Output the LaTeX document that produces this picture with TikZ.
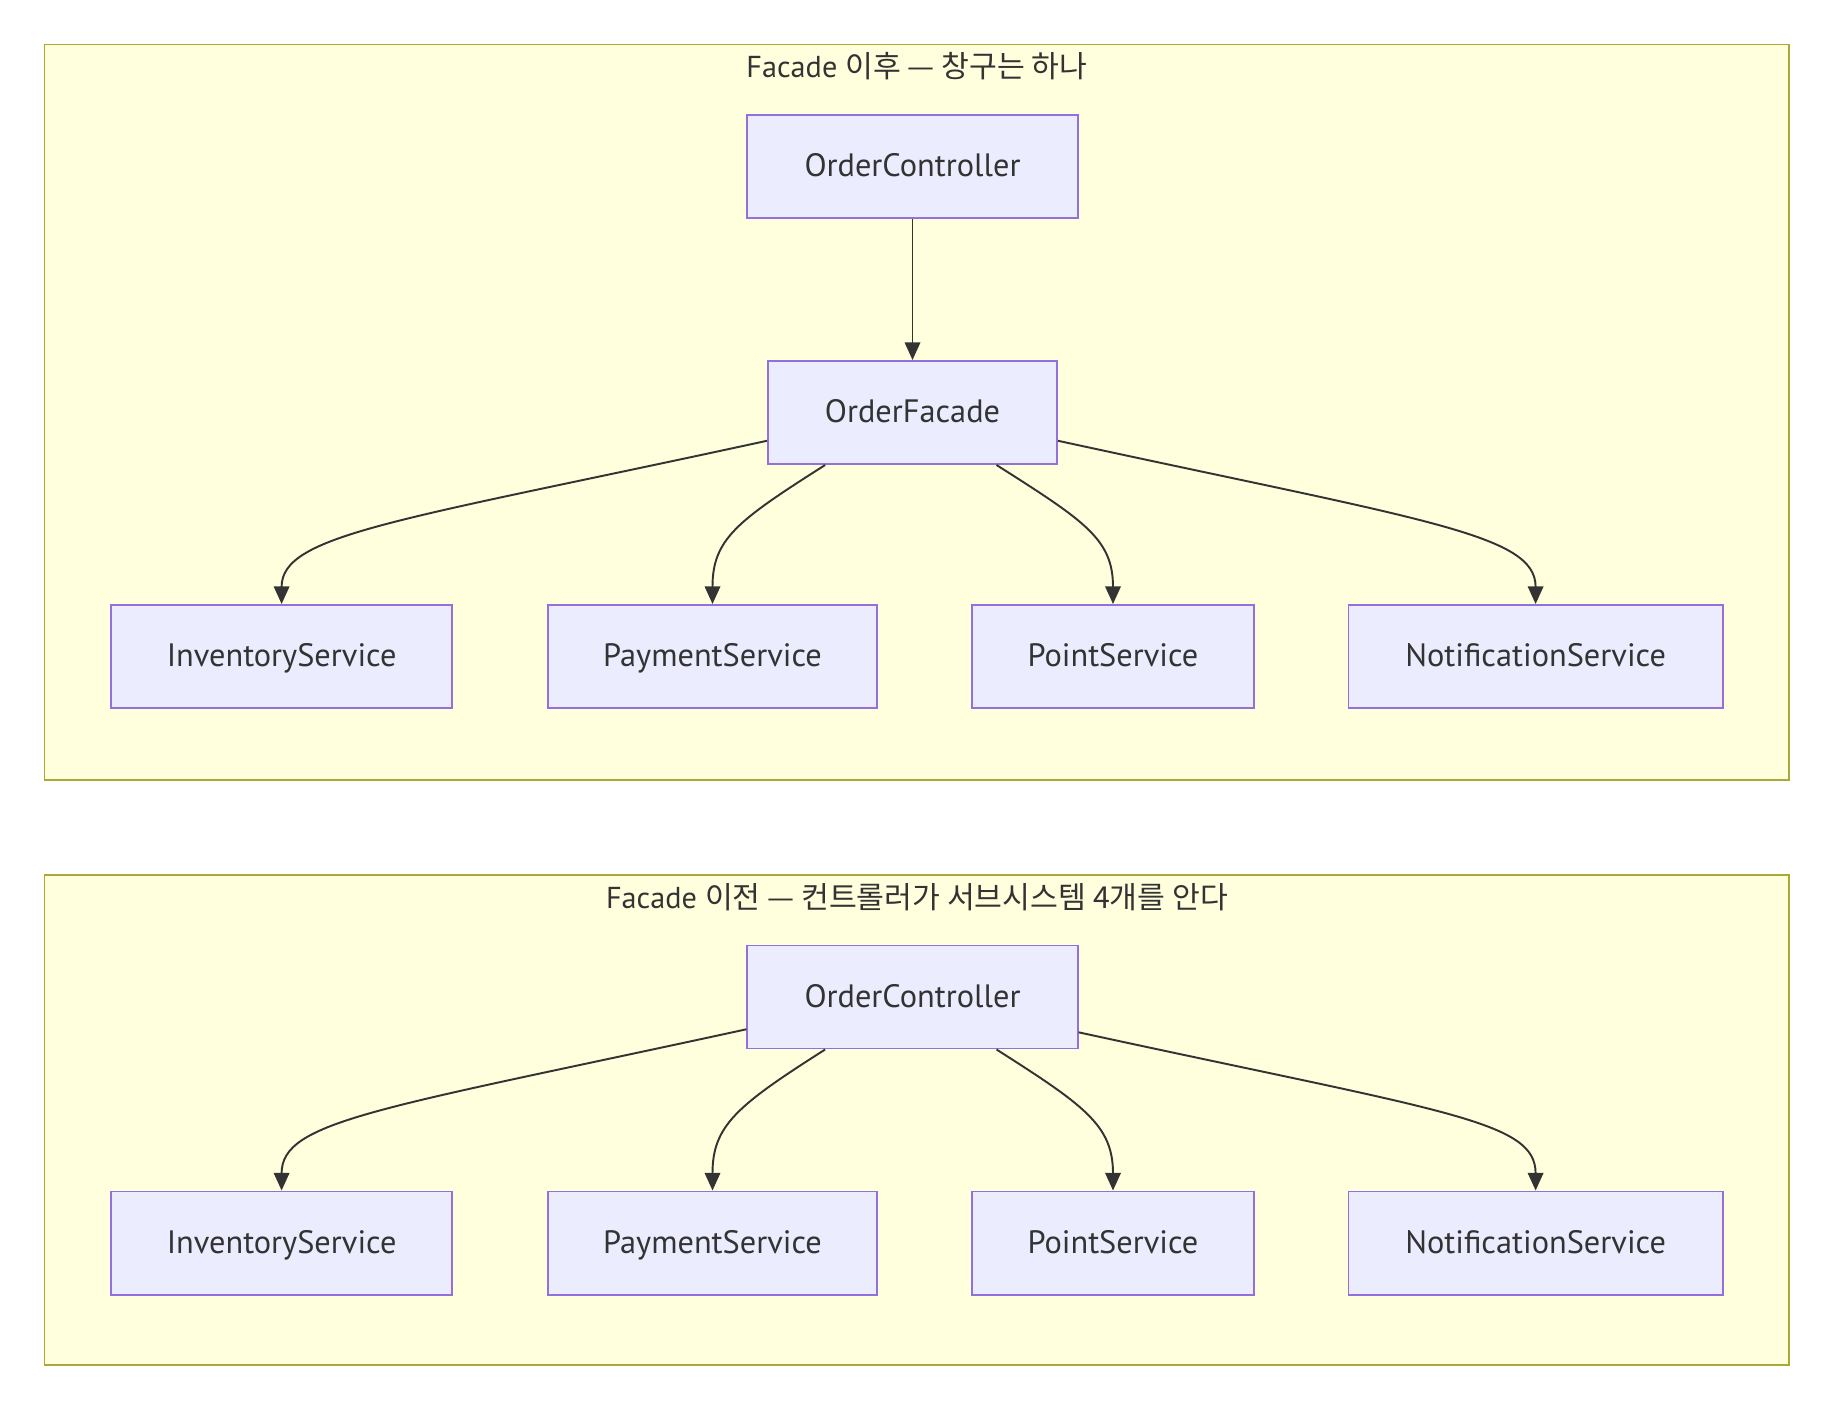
\documentclass[tikz,border=0pt]{standalone}
\usepackage{fontspec}
\setmainfont{PT Sans}
\newfontfamily\kr{Noto Sans CJK KR}
\usetikzlibrary{arrows.meta}
\definecolor{clfill}{HTML}{FFFFDE}
\definecolor{cldraw}{HTML}{AAAA33}
\definecolor{ndfill}{HTML}{ECECFF}
\definecolor{nddraw}{HTML}{9370DB}
\definecolor{ink}{HTML}{333333}
\begin{document}
\begin{tikzpicture}[x=0.01cm, y=-0.01cm,
	font=\fontsize{8.6pt}{10pt}\selectfont, text=ink,
	cluster/.style={draw=cldraw, fill=clfill, line width=0.5pt},
	box/.style={draw=nddraw, fill=ndfill, line width=0.55pt, inner sep=0pt, minimum height=1.03cm,
		font=\fontsize{9.2pt}{10pt}\selectfont, text height=1.6ex, text depth=0.45ex},
	edge/.style={draw=ink, line width=0.55pt, -{Triangle[length=5pt,width=4.4pt]}}]
	\useasboundingbox (0,0) rectangle (1836,1422);
	% after facade
	\filldraw[cluster] (44.5,44.5) rectangle (1789,780);
	\node (title1) at (917,66) {Facade {\kr 이후 — 창구는 하나}};
	\node[box, minimum width=3.30cm] (ctl1) at (912.5,166.5) {OrderController};
	\node[box, minimum width=2.89cm] (fac) at (912.5,412.5) {OrderFacade};
	\node[box, minimum width=3.41cm] (inv1) at (281.6,656.5) {InventoryService};
	\node[box, minimum width=3.29cm] (pay1) at (712.5,656.5) {PaymentService};
	\node[box, minimum width=2.82cm] (pt1) at (1113,656.5) {PointService};
	\node[box, minimum width=3.74cm] (noti1) at (1535.6,656.5) {NotificationService};
	\draw[edge] (ctl1.south) -- (fac.north);
	\draw[edge] (fac.191) .. controls +(-368,80) and +(0,-70) .. (inv1.north);
	\draw[edge] (fac.211.4) .. controls +(-88,56) and +(0,-65) .. (pay1.north);
	\draw[edge] (fac.328.6) .. controls +(88,56) and +(0,-65) .. (pt1.north);
	\draw[edge] (fac.349) .. controls +(368,80) and +(0,-70) .. (noti1.north);
	% before facade
	\filldraw[cluster] (44.5,875) rectangle (1789,1365);
	\node (title2) at (917,897) {Facade {\kr 이전 — 컨트롤러가 서브시스템 4개를 안다}};
	\node[box, minimum width=3.30cm] (ctl2) at (912.5,997) {OrderController};
	\node[box, minimum width=3.41cm] (inv2) at (281.6,1243) {InventoryService};
	\node[box, minimum width=3.29cm] (pay2) at (712.5,1243) {PaymentService};
	\node[box, minimum width=2.82cm] (pt2) at (1113,1243) {PointService};
	\node[box, minimum width=3.74cm] (noti2) at (1535.6,1243) {NotificationService};
	\draw[edge] (ctl2.191.3) .. controls +(-368,80) and +(0,-70) .. (inv2.north);
	\draw[edge] (ctl2.211.4) .. controls +(-88,56) and +(0,-65) .. (pay2.north);
	\draw[edge] (ctl2.328.6) .. controls +(88,56) and +(0,-65) .. (pt2.north);
	\draw[edge] (ctl2.348.7) .. controls +(368,80) and +(0,-70) .. (noti2.north);
\end{tikzpicture}
\end{document}
